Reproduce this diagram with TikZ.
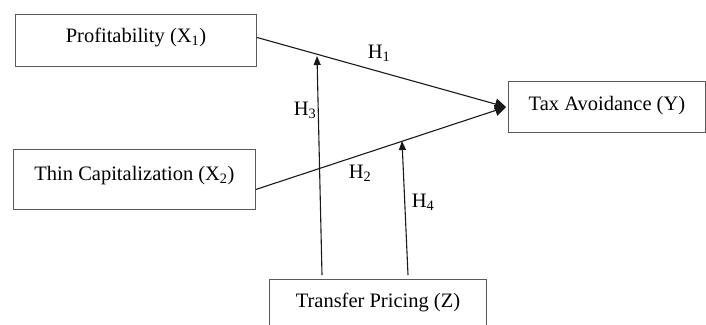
\documentclass[tikz,border=0pt]{standalone}
\usepackage{fontspec}
\setmainfont{Liberation Serif}
\usetikzlibrary{arrows.meta}
\begin{document}
\begin{tikzpicture}[x=1pt,y=-1pt,
  box/.style={draw=black!65,line width=0.9pt,inner xsep=0pt,inner ysep=0pt,
    font=\fontsize{20.5}{24}\selectfont,anchor=north west},
  lbl/.style={font=\fontsize{20.5}{24}\selectfont,inner sep=0pt},
  link/.style={draw=black!90,line width=1.1pt},
  bigtip/.style={-{Triangle[length=11pt,width=11pt]}},
  smalltip/.style={-{Triangle[length=9pt,width=7pt]}}]
\useasboundingbox (0,0) rectangle (706,324);
\clip (0,0) rectangle (706,324);
\node[box,minimum width=241pt,text height=28pt,text depth=24pt] (P) at (15,14) {Profitability (X\textsubscript{1})};
\node[box,minimum width=242pt,text height=31pt,text depth=29pt] (T) at (13,149) {Thin Capitalization (X\textsubscript{2})};
\node[box,minimum width=197pt,text height=29pt,text depth=22pt] (Y) at (508,81) {Tax Avoidance (Y)};
\node[box,minimum width=217pt,text height=28pt,text depth=24pt] (Z) at (269,279) {Transfer Pricing (Z)};
\coordinate (tip) at (506,107);
\coordinate (m1) at (317,56);
\coordinate (m2) at (402,141);
\coordinate (s1) at (322,275);
\coordinate (s2) at (408,275);
\draw[link,bigtip] ([yshift=3pt]P.east) -- (tip);
\draw[link,bigtip] ([yshift=-10pt]T.east) -- (tip);
\draw[link,smalltip] (s1) -- (m1);
\draw[link,smalltip] (s2) -- (m2);
\node[lbl] (h1) at (379,53) {H\textsubscript{1}};
\node[lbl] (h2) at (360,173) {H\textsubscript{2}};
\node[lbl] (h3) at (305,110) {H\textsubscript{3}};
\node[lbl] (h4) at (423,202) {H\textsubscript{4}};
\end{tikzpicture}
\end{document}
